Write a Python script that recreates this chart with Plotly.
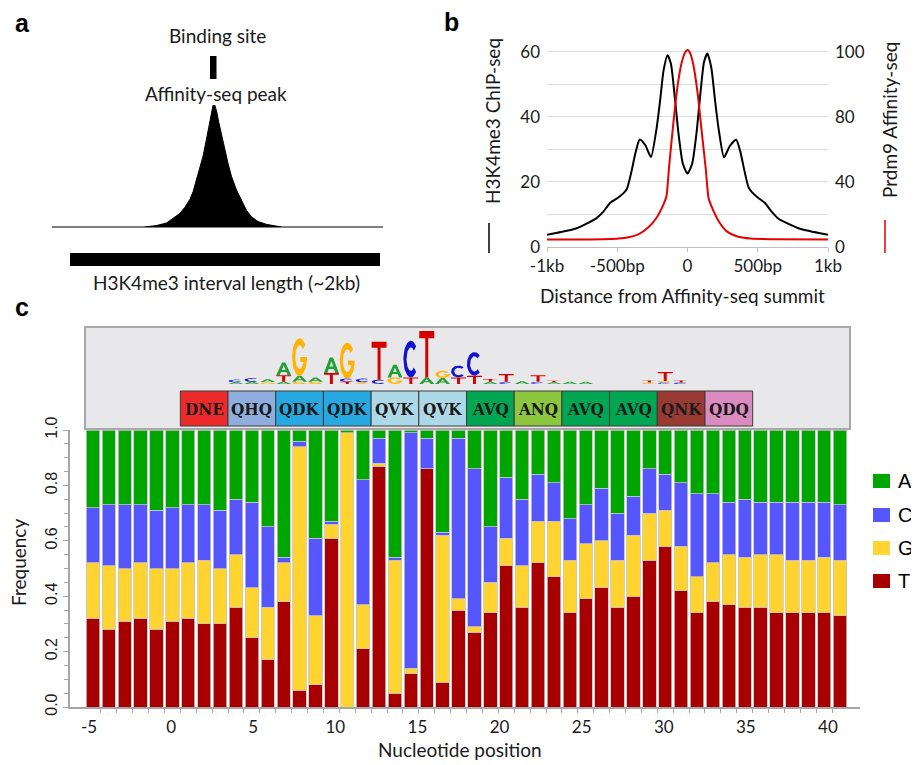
import math
import plotly.graph_objects as go

# page body has an 8px margin: the figure is shifted, so size and coordinates compensate
OFF = 8
W, H = 919 - OFF, 765 - OFF


def xp(px):
    return (px - OFF) / W


def yp(py):
    return 1 - (py - OFF) / H


# ---------------- Panel a : schematic peak ----------------
peak_bp = [-441, -365, -301, -258, -215, -183, -150, -129, -107, -86, -65, -43, -26, -10, 0,
           11, 22, 37, 54, 75, 97, 119, 151, 183, 215, 248, 290, 344, 441]
peak_signal = [0, 0.012, 0.033, 0.070, 0.111, 0.160, 0.226, 0.290, 0.387, 0.484, 0.580, 0.718,
               0.829, 0.940, 1.0, 1.0, 0.953, 0.857, 0.760, 0.635, 0.519, 0.414, 0.304, 0.221,
               0.138, 0.083, 0.045, 0.022, 0]

# ---------------- Panel b : profiles ----------------
h3_bp = [-1000, -900, -800, -700, -650, -600, -550, -500, -450, -430, -400, -370, -340, -300,
         -260, -220, -195, -170, -142, -118, -88, -64, -33, 0, 33, 64, 88, 118, 142, 170, 195,
         220, 260, 300, 346, 375, 405, 435, 460, 500, 550, 600, 650, 700, 800, 900, 1000]
h3k4me3 = [3.8, 4.6, 5.6, 7.6, 8.8, 10.8, 13.6, 15.0, 16.8, 18.0, 23.0, 29.0, 33.1, 31.3,
           27.7, 36.5, 45.0, 54.4, 59.0, 56.4, 45.0, 34.9, 25.6, 22.6, 25.6, 35.0, 45.5, 57.0,
           59.5, 55.0, 45.5, 36.8, 27.6, 31.0, 33.0, 29.5, 23.5, 18.3, 16.8, 15.2, 13.6, 10.8,
           8.6, 7.5, 5.6, 4.6, 3.8]
aff_bp = [-1000, -600, -450, -350, -280, -220, -170, -150, -130, -100, -70, -40, -15, 0, 15,
          40, 70, 100, 130, 150, 170, 220, 280, 350, 450, 600, 1000]
affinity = [3.9, 4.0, 4.6, 6.5, 10, 15, 22, 26, 42, 64, 83, 95, 100, 101, 100, 94, 80, 60, 40,
            25, 21, 13.5, 8, 5.5, 4.3, 4.0, 3.9]
b_xticks = [-1000, -500, 0, 500, 1000]
b_xticktext = ['-1kb', '-500bp', '0', '500bp', '1kb']
b_left_ticks = [0, 10, 20, 30, 40, 50, 60]
b_left_text = ['0', '', '20', '', '40', '', '60']
b_right_ticks = [0, 33.33, 66.67, 100]
b_right_text = ['0', '40', '80', '100']

# ---------------- Panel c : nucleotide frequencies ----------------
positions = [-5, -4, -3, -2, -1, 0, 1, 2, 3, 4, 5, 6, 7, 8, 9, 10, 11, 12, 13, 14, 15, 16, 17,
             18, 19, 20, 21, 22, 23, 24, 25, 26, 27, 28, 29, 30, 31, 32, 33, 34, 35, 36, 37, 38,
             39, 40, 41, 42]
freq_T = [0.32, 0.28, 0.31, 0.32, 0.28, 0.31, 0.32, 0.30, 0.30, 0.36, 0.25, 0.17, 0.38, 0.06,
          0.08, 0.61, 0.00, 0.21, 0.87, 0.05, 0.12, 0.86, 0.09, 0.35, 0.27, 0.34, 0.51, 0.36,
          0.52, 0.47, 0.34, 0.39, 0.43, 0.36, 0.40, 0.53, 0.58, 0.42, 0.34, 0.38, 0.37, 0.36,
          0.36, 0.34, 0.34, 0.34, 0.34, 0.33]
freq_G = [0.20, 0.23, 0.19, 0.20, 0.22, 0.19, 0.20, 0.23, 0.20, 0.19, 0.18, 0.19, 0.14, 0.88,
          0.25, 0.05, 0.99, 0.16, 0.01, 0.48, 0.02, 0.00, 0.53, 0.04, 0.02, 0.11, 0.10, 0.15,
          0.15, 0.20, 0.19, 0.20, 0.17, 0.17, 0.22, 0.17, 0.13, 0.16, 0.13, 0.14, 0.18, 0.18,
          0.19, 0.21, 0.19, 0.19, 0.20, 0.20]
freq_C = [0.20, 0.22, 0.23, 0.21, 0.21, 0.22, 0.21, 0.20, 0.21, 0.20, 0.31, 0.29, 0.02, 0.02,
          0.28, 0.01, 0.00, 0.45, 0.09, 0.01, 0.85, 0.11, 0.01, 0.58, 0.57, 0.20, 0.22, 0.24,
          0.17, 0.14, 0.15, 0.14, 0.19, 0.17, 0.14, 0.16, 0.13, 0.23, 0.30, 0.25, 0.19, 0.21,
          0.19, 0.19, 0.21, 0.21, 0.20, 0.20]
freq_A = [0.28, 0.27, 0.27, 0.27, 0.29, 0.28, 0.27, 0.27, 0.29, 0.25, 0.26, 0.35, 0.46, 0.04,
          0.39, 0.33, 0.01, 0.18, 0.03, 0.46, 0.01, 0.03, 0.37, 0.03, 0.14, 0.35, 0.17, 0.25,
          0.16, 0.19, 0.32, 0.27, 0.21, 0.30, 0.24, 0.14, 0.16, 0.19, 0.23, 0.23, 0.26, 0.25,
          0.26, 0.26, 0.26, 0.26, 0.26, 0.27]
c_xticks = [-5, 0, 5, 10, 15, 20, 25, 30, 35, 40]
c_xticktext = ['-5', '0', '5', '10', '15', '20', '25', '30', '35', '40']
c_yticks = [0, 0.2, 0.4, 0.6, 0.8, 1.0]

# sequence logo (bottom -> top inside each position), heights in bits
logo_pos = [4, 4, 5, 5, 6, 6, 7, 7, 7, 8, 8, 8, 9, 9, 10, 10, 11, 11, 11, 12, 12, 13, 13,
            14, 14, 15, 15, 16, 16, 17, 17, 18, 18, 19, 19, 20, 20, 21, 21, 22, 23, 23, 24,
            24, 25, 26, 30, 30, 31, 31, 31, 32, 32]
logo_letter = ['A', 'C', 'A', 'C', 'G', 'A', 'A', 'T', 'A', 'G', 'A', 'G', 'G', 'A', 'T', 'A',
               'T', 'C', 'G', 'G', 'C', 'C', 'T', 'G', 'A', 'T', 'C', 'A', 'T', 'A', 'G', 'T',
               'C', 'T', 'C', 'A', 'T', 'C', 'T', 'A', 'C', 'T', 'A', 'T', 'A', 'A', 'G', 'T',
               'C', 'G', 'T', 'C', 'T']
logo_bits = [0.06, 0.10, 0.08, 0.14, 0.07, 0.10, 0.08, 0.24, 0.46, 0.08, 0.22, 1.36, 0.08,
             0.16, 0.40, 0.56, 0.08, 0.12, 1.30, 0.06, 0.14, 0.16, 1.38, 0.24, 0.46, 0.24,
             1.33, 0.24, 1.69, 0.22, 0.26, 0.24, 0.43, 0.30, 0.86, 0.08, 0.10, 0.08, 0.28,
             0.10, 0.08, 0.24, 0.06, 0.06, 0.08, 0.08, 0.05, 0.08, 0.06, 0.05, 0.33, 0.05, 0.08]

# zinc-finger boxes (first nucleotide position covered by each box, 3 nt each)
zf_first_pos = [1, 4, 7, 10, 13, 16, 19, 22, 25, 28, 31, 34]
zf_labels = ['DNE', 'QHQ', 'QDK', 'QDK', 'QVK', 'QVK', 'AVQ', 'ANQ', 'AVQ', 'AVQ', 'QNK', 'QDQ']
zf_colors = ['#EC2A2A', '#8FAEDD', '#27A8E0', '#27A8E0', '#ADD8E8', '#ADD8E8', '#00A651',
             '#8DC63F', '#00A651', '#00A651', '#983A32', '#DA8BC0']

bases = ['A', 'C', 'G', 'T']
bar_colors = {'A': '#00A600', 'C': '#5656FF', 'G': '#FFD431', 'T': '#A80000'}
logo_colors = {'A': '#22A036', 'C': '#1212D2', 'G': '#FFB300', 'T': '#D40000'}
LOGO_BG = '#E8E8EA'
TXT = '#1a1a1a'
SANS = 'Lato, Liberation Sans, sans-serif'

fig = go.Figure()

# ---- panel a trace
fig.add_trace(go.Scatter(x=peak_bp, y=peak_signal, xaxis='x3', yaxis='y4', mode='lines',
                         fill='tozeroy', fillcolor='black', line=dict(color='black', width=1),
                         hoverinfo='skip'))

# ---- panel b traces
fig.add_trace(go.Scatter(x=h3_bp, y=h3k4me3, xaxis='x2', yaxis='y2', mode='lines',
                         line=dict(color='black', width=2, shape='spline', smoothing=0.6)))
fig.add_trace(go.Scatter(x=aff_bp, y=affinity, xaxis='x2', yaxis='y3', mode='lines',
                         line=dict(color='#E60000', width=2, shape='spline', smoothing=0.6)))

# ---- panel c bars (T bottom, then G, C, A)
series = {'T': freq_T, 'G': freq_G, 'C': freq_C, 'A': freq_A}
for b in ['T', 'G', 'C', 'A']:
    fig.add_trace(go.Bar(x=positions, y=series[b], name=b, xaxis='x', yaxis='y',
                         marker=dict(color=bar_colors[b], line=dict(color='#C4C4C4', width=0.8))))

# dummy trace to materialise the tick-label axis
fig.add_trace(go.Scatter(x=[None], y=[None], xaxis='x4', yaxis='y', mode='markers',
                         hoverinfo='skip'))


# ---- logo glyphs
def arc(cx, cy, rx, ry, a0, a1, step):
    pts = []
    n = int(abs(a1 - a0) / step)
    for k in range(n + 1):
        t = math.radians(a0 + (a1 - a0) * k / n)
        pts.append((cx + rx * math.cos(t), cy + ry * math.sin(t)))
    return pts


def unit_glyph(letter):
    if letter == 'T':
        return [[(0, 1), (1, 1), (1, 0.84), (0.6, 0.84), (0.6, 0), (0.4, 0), (0.4, 0.84),
                 (0, 0.84)]], []
    if letter == 'A':
        return ([[(0, 0), (0.39, 1), (0.61, 1), (1, 0), (0.77, 0), (0.68, 0.26), (0.32, 0.26),
                  (0.23, 0)]],
                [[(0.375, 0.42), (0.5, 0.76), (0.625, 0.42)]])
    if letter == 'C':
        outer = arc(0.5, 0.5, 0.5, 0.5, 45, 315, 7.5)
        inner = arc(0.5, 0.5, 0.29, 0.32, 315, 45, 7.5)
        return [outer + inner], []
    if letter == 'G':
        outer = arc(0.5, 0.5, 0.5, 0.5, 40, 360, 8)
        inner = arc(0.5, 0.5, 0.29, 0.32, 336, 40, 8)
        return [outer + [(0.55, 0.5), (0.55, 0.37)] + inner], []
    return [], []


glyph_xy = {b: ([], []) for b in bases}
hole_x, hole_y = [], []
stack_top = {}
for p, L, h in zip(logo_pos, logo_letter, logo_bits):
    base = stack_top.get(p, 0.0)
    polys, holes = unit_glyph(L)
    x0, wdt = p - 0.47, 0.94
    for poly in polys:
        glyph_xy[L][0].extend([x0 + u * wdt for u, v in poly] + [None])
        glyph_xy[L][1].extend([base + v * h for u, v in poly] + [None])
    for poly in holes:
        hole_x.extend([x0 + u * wdt for u, v in poly] + [None])
        hole_y.extend([base + v * h for u, v in poly] + [None])
    stack_top[p] = base + h

for b in bases:
    fig.add_trace(go.Scatter(x=glyph_xy[b][0], y=glyph_xy[b][1], xaxis='x', yaxis='y5',
                             mode='lines', fill='toself', fillcolor=logo_colors[b],
                             line=dict(width=0, color=logo_colors[b]), hoverinfo='skip'))
fig.add_trace(go.Scatter(x=hole_x, y=hole_y, xaxis='x', yaxis='y5', mode='lines',
                         fill='toself', fillcolor=LOGO_BG, line=dict(width=0, color=LOGO_BG),
                         hoverinfo='skip'))

shapes = []
annotations = []

# ---- panel a decorations
shapes.append(dict(type='line', xref='paper', yref='paper', x0=xp(52), x1=xp(383),
                   y0=yp(227), y1=yp(227), line=dict(color='black', width=1)))
shapes.append(dict(type='rect', xref='paper', yref='paper', x0=xp(70), x1=xp(380),
                   y0=yp(266), y1=yp(253), fillcolor='black', line=dict(width=0)))
shapes.append(dict(type='rect', xref='paper', yref='paper', x0=xp(210), x1=xp(216.5),
                   y0=yp(79), y1=yp(56), fillcolor='black', line=dict(width=0)))


def text(px, py, s, size, family=SANS, color=TXT, angle=0, xanchor='center', bold=False):
    if bold:
        s = '<b>' + s + '</b>'
    annotations.append(dict(x=xp(px), y=yp(py), xref='paper', yref='paper', text=s,
                            showarrow=False, textangle=angle, xanchor=xanchor,
                            yanchor='middle', font=dict(size=size, family=family, color=color)))


text(22, 23, 'a', 25, family='Liberation Sans, Arial', color='black', bold=True)
text(217, 36, 'Binding site', 19)
text(216, 93, 'Affinity-seq peak', 19)
text(226, 282, 'H3K4me3 interval length (~2kb)', 19)

# ---- panel b decorations
text(451, 22, 'b', 25, family='Liberation Sans, Arial', color='black', bold=True)
text(682, 295, 'Distance from Affinity-seq summit', 19)
text(492, 121, 'H3K4me3 ChIP-seq', 19, angle=-90)
text(889, 120, 'Prdm9 Affinity-seq', 19, angle=-90)
shapes.append(dict(type='line', xref='paper', yref='paper', x0=xp(489), x1=xp(489),
                   y0=yp(253), y1=yp(223), line=dict(color='black', width=1.5)))
shapes.append(dict(type='line', xref='paper', yref='paper', x0=xp(885), x1=xp(885),
                   y0=yp(253), y1=yp(220), line=dict(color='#E60000', width=1.5)))

# ---- panel c decorations
text(22, 307, 'c', 25, family='Liberation Sans, Arial', color='black', bold=True)
text(18, 563, 'Frequency', 19, angle=-90)
text(460, 749, 'Nucleotide position', 19)
shapes.append(dict(type='rect', xref='paper', yref='paper', x0=xp(85), x1=xp(850),
                   y0=yp(429), y1=yp(327), fillcolor=LOGO_BG, line=dict(color='#A8A8A8', width=2),
                   layer='below'))
for p0, lab, col in zip(zf_first_pos, zf_labels, zf_colors):
    shapes.append(dict(type='rect', xref='x', yref='paper', x0=p0 - 0.5, x1=p0 + 2.5,
                       y0=yp(426), y1=yp(391), fillcolor=col,
                       line=dict(color='#3a3a3a', width=1)))
    annotations.append(dict(x=p0 + 1, y=yp(409), xref='x', yref='paper', text='<b>' + lab + '</b>',
                            showarrow=False, xanchor='center', yanchor='middle',
                            font=dict(size=17, family='DejaVu Serif Condensed, DejaVu Serif, serif',
                                      color='#1a1a1a')))

# legend (custom)
leg_y = [481, 515, 548, 581]
for b, ly in zip(bases, leg_y):
    shapes.append(dict(type='rect', xref='paper', yref='paper', x0=xp(873), x1=xp(890),
                       y0=yp(ly + 7), y1=yp(ly - 7), fillcolor=bar_colors[b],
                       line=dict(width=0)))
    text(896, ly, b, 20, family='Liberation Sans, Arial', color='black', xanchor='left')

axis_gray = '#A6A6A6'
fig.update_layout(
    width=W, height=H, margin=dict(l=0, r=0, t=0, b=0, autoexpand=False),
    paper_bgcolor='white', plot_bgcolor='rgba(0,0,0,0)',
    barmode='stack', bargap=0.16, showlegend=False,
    font=dict(family=SANS, color=TXT),
    shapes=shapes, annotations=annotations,
    # panel c bars
    xaxis=dict(domain=[xp(70), xp(860)], range=[-6.44, 43.25], anchor='y', automargin=False,
               showline=True, linecolor=axis_gray, linewidth=1.5, showgrid=False,
               zeroline=False, tickmode='array',
               tickvals=[p + 0.5 for p in positions[:-1]], ticks='outside', ticklen=4,
               tickcolor=axis_gray, showticklabels=False),
    xaxis4=dict(domain=[xp(70), xp(860)], range=[-6.157, 41.95], anchor='y', overlaying='x',
                automargin=False, showline=False, showgrid=False, zeroline=False,
                tickmode='array', tickvals=c_xticks, ticktext=c_xticktext, ticks='',
                ticklabelstandoff=8,
                tickfont=dict(size=17, family='Liberation Sans Narrow, Lato, sans-serif',
                              color=TXT)),
    yaxis=dict(domain=[yp(707), yp(430)], range=[0, 1.0], anchor='x', automargin=False,
               showline=True, linecolor=axis_gray, linewidth=1.5, showgrid=False,
               zeroline=False, tickmode='array', tickvals=c_yticks, tickformat='.1f',
               tickangle=-90, ticks='outside', ticklen=5, tickcolor=axis_gray,
               minor=dict(dtick=0.05, ticks='outside', ticklen=4, tickcolor=axis_gray),
               tickfont=dict(size=16, family='Liberation Sans, Arial', color=TXT)),
    yaxis5=dict(domain=[yp(384), yp(329)], range=[0, 2.0], anchor='x', visible=False,
                automargin=False),
    # panel b
    xaxis2=dict(domain=[xp(547), xp(828)], range=[-1000, 1000], anchor='y2', automargin=False,
                showline=True, linecolor='#BFBFBF', linewidth=1, showgrid=False, zeroline=False,
                tickmode='array', tickvals=b_xticks, ticktext=b_xticktext, ticks='outside',
                ticklen=4, tickcolor='#BFBFBF', tickfont=dict(size=17, color=TXT)),
    yaxis2=dict(domain=[yp(247), yp(47.1)], range=[0, 61.5], anchor='x2', automargin=False,
                showline=False, zeroline=False, showgrid=True, gridcolor='#DCDCDC', gridwidth=1,
                tickmode='array', tickvals=b_left_ticks, ticktext=b_left_text, ticks='',
                ticklabelstandoff=6, tickfont=dict(size=17, color=TXT)),
    yaxis3=dict(domain=[yp(247), yp(47.1)], range=[0, 102.5], anchor='x2', overlaying='y2',
                automargin=False, side='right', showline=False, zeroline=False, showgrid=False,
                tickmode='array', tickvals=b_right_ticks, ticktext=b_right_text, ticks='',
                ticklabelstandoff=6, tickfont=dict(size=17, color=TXT)),
    # panel a
    xaxis3=dict(domain=[xp(52), xp(383)], range=[-1040, 1097], anchor='y4', visible=False,
                automargin=False),
    yaxis4=dict(domain=[yp(227), yp(105)], range=[0, 1.0], anchor='x3', visible=False,
                automargin=False),
)

fig.write_html('out.html')
